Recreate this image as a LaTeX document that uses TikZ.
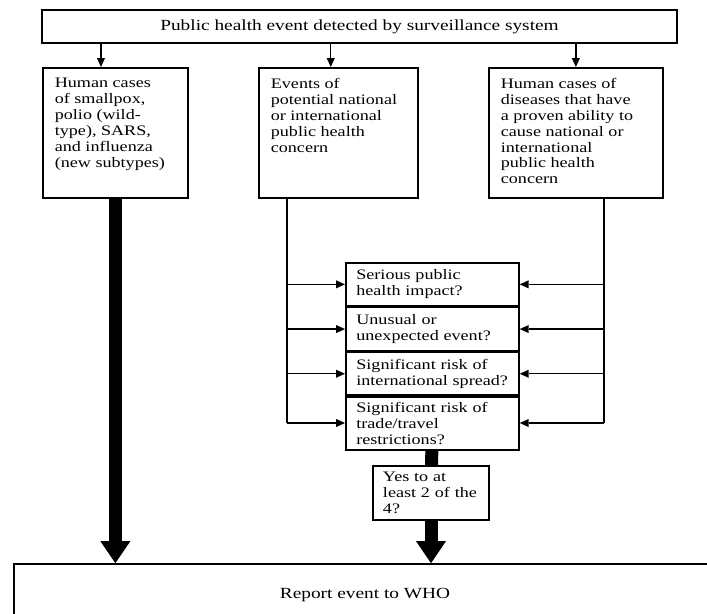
\documentclass[tikz,border=0pt]{standalone}
\usepackage{fontspec}
\setmainfont{Liberation Serif}[FakeStretch=1.25]
\usetikzlibrary{arrows.meta, positioning}
\newcommand{\caixatopo}[3]{\parbox[c][#1][t]{#2}{\raggedright #3}}

\begin{document}
\begin{tikzpicture}[
        x=0.025cm, y=-0.025cm,
        font=\fontsize{10.3pt}{11.3pt}\selectfont,
        caixa/.style={draw, line width=1.2pt, inner sep=0pt},
        titulo/.style={caixa, font=\fontsize{11pt}{12pt}\selectfont},
        topo/.style={caixa, anchor=north west, inner xsep=0.3cm, inner ysep=0.26cm},
        pergunta/.style={caixa, align=left, text width=3.8cm, inner xsep=0.2625cm, minimum height=#1},
        pergunta/.default=1.075cm,
        linha/.style={line width=0.9pt},
        seta/.style={-{Triangle[length=0.22cm, width=0.2cm, line width=0pt]}, line width=0.9pt},
        setagrossa/.style={-{Triangle[length=0.55cm, width=0.75cm, line width=0pt]}, line width=0.325cm},
        barra/.style={line width=0.325cm}
    ]
        \useasboundingbox (0,0) rectangle (707,613);

        \node[titulo, minimum width=15.875cm, minimum height=0.825cm] (deteccao) at (359.5,26.5) {Public health event detected by surveillance system};

        \node[topo] (casos) at (42,67) {\caixatopo{2.73cm}{3.025cm}{Human cases\\of smallpox,\\polio (wild-\\type), SARS,\\and influenza\\(new subtypes)}};
        \node[topo] (eventos) at (258,67) {\caixatopo{2.73cm}{3.375cm}{Events of\\potential national\\or international\\public health\\concern}};
        \node[topo] (doencas) at (488,67) {\caixatopo{2.73cm}{3.75cm}{Human cases of\\diseases that have\\a proven ability to\\cause national or\\international\\public health\\concern}};

        \node[pergunta, anchor=north west] (q1) at (345,262) {Serious public\\health impact?};
        \node[pergunta, below=0pt of q1] (q2) {Unusual or\\unexpected event?};
        \node[pergunta, below=0pt of q2] (q3) {Significant risk of\\international spread?};
        \node[pergunta=1.325cm, below=0pt of q3] (q4) {Significant risk of\\trade/travel\\restrictions?};

        \node[caixa, align=left, text width=2.4cm, inner xsep=0.25cm, minimum height=1.35cm] (sim) at (431,493) {Yes to at\\least 2 of the\\4?};

        \node[titulo, minimum width=17.55cm, minimum height=1.55cm] (who) at (365,595) {Report event to WHO};

        \coordinate (ramoesq) at (287,423);
        \coordinate (ramodir) at (604,423);

        \draw[seta] ([xshift=-0.36cm]deteccao.south -| casos.north) -- ([xshift=-0.36cm]casos.north);
        \draw[seta] ([xshift=-0.19cm]deteccao.south -| eventos.north) -- ([xshift=-0.19cm]eventos.north);
        \draw[seta] (deteccao.south -| doencas.north) -- (doencas.north);

        \draw[setagrossa] (casos.south) -- (casos.south |- who.north);

        \draw[linha] (eventos.south -| ramoesq) -- (ramoesq);
        \draw[linha] (doencas.south -| ramodir) -- (ramodir);
        \foreach \q in {q1,q2,q3} {
            \draw[seta] (ramoesq |- \q) -- (\q);
            \draw[seta] (ramodir |- \q) -- (\q);
        }
        \draw[seta] (ramoesq) -- (ramoesq -| q4.west);
        \draw[seta] (ramodir) -- (ramodir -| q4.east);

        \draw[barra] (q4) -- (sim);
        \draw[setagrossa] (sim) -- (sim |- who.north);
    \end{tikzpicture}
\end{document}
